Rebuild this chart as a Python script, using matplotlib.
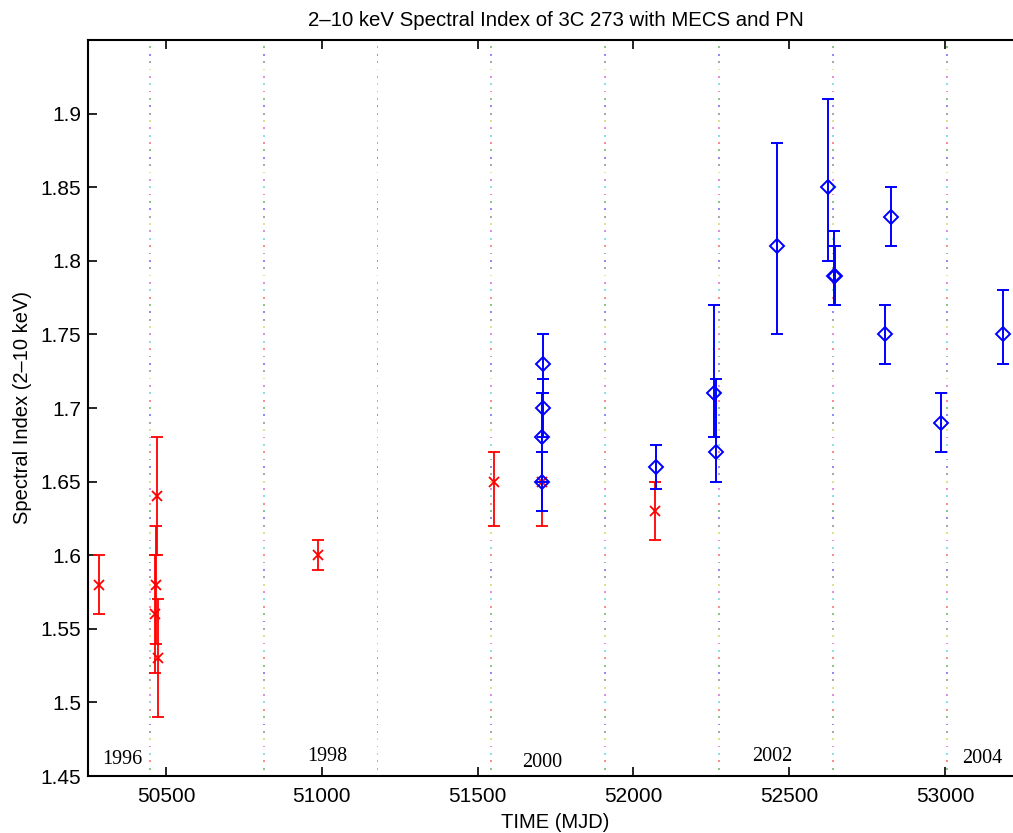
import numpy as np
import matplotlib
matplotlib.use('Agg')
import matplotlib.pyplot as plt

# MECS (BeppoSAX) points
mecs_mjd = [50285, 50470, 50467, 50465, 50474, 50988, 51553, 51707, 52069]
mecs_index = [1.58, 1.64, 1.58, 1.56, 1.53, 1.60, 1.65, 1.65, 1.63]
mecs_err_lo = [0.02, 0.04, 0.04, 0.04, 0.04, 0.01, 0.03, 0.03, 0.02]
mecs_err_hi = [0.02, 0.04, 0.04, 0.04, 0.04, 0.01, 0.02, 0.02, 0.02]

# PN (XMM) points
pn_mjd = [51709, 51711, 51708, 51707, 52073, 52259, 52265, 52461, 52625,
          52644, 52646, 52807, 52827, 52987, 53186]
pn_index = [1.73, 1.70, 1.68, 1.65, 1.66, 1.71, 1.67, 1.81, 1.85,
            1.79, 1.79, 1.75, 1.83, 1.69, 1.75]
pn_err_lo = [0.02, 0.02, 0.03, 0.02, 0.015, 0.03, 0.02, 0.06, 0.05,
             0.02, 0.02, 0.02, 0.02, 0.02, 0.02]
pn_err_hi = [0.02, 0.02, 0.03, 0.02, 0.015, 0.06, 0.05, 0.07, 0.06,
             0.03, 0.02, 0.02, 0.02, 0.02, 0.03]

# year boundaries (MJD of Jan 1) and year labels
year_start_mjd = [50449, 50814, 51179, 51544, 51910, 52275, 52640, 53005]
year_labels = ['1996', '1998', '2000', '2002', '2004']
year_label_mjd = [50359, 51017, 51707, 52445, 53119]
year_label_y = [1.461, 1.463, 1.459, 1.463, 1.462]

dot_colors = ['#0000ff', '#008000', '#ff0000', '#00bfbf', '#bf00bf', '#bfbf00', '#404040']

plt.rcParams['font.family'] = ['Liberation Sans', 'DejaVu Sans']

fig = plt.figure(figsize=(10.13, 8.33), dpi=100)
ax = fig.add_axes([88 / 1013, 57 / 833, 935 / 1013, 736 / 833])

# multicoloured dotted year lines
dot_y = np.arange(1.45, 1.951, 0.005)
for xm in year_start_mjd:
    cols = [dot_colors[i % len(dot_colors)] for i in range(len(dot_y))]
    ax.scatter(np.full(len(dot_y), xm), dot_y, s=1.8, marker='s', c=cols,
               alpha=0.45, linewidths=0, zorder=1)

ax.errorbar(mecs_mjd, mecs_index, yerr=[mecs_err_lo, mecs_err_hi], fmt='x',
            color='red', ms=7, mew=1.3, elinewidth=1.3, capsize=4, capthick=1.3,
            zorder=3)
ax.errorbar(pn_mjd, pn_index, yerr=[pn_err_lo, pn_err_hi], fmt='D',
            color='blue', mfc='none', ms=7.5, mew=1.4, elinewidth=1.4, capsize=4,
            capthick=1.4, zorder=4)

for lbl, xm, ym in zip(year_labels, year_label_mjd, year_label_y):
    ax.text(xm, ym, lbl, family=['Liberation Serif', 'DejaVu Serif'],
            fontsize=14.5, ha='center', va='center')

ax.set_xlim(50250, 53250)
ax.set_ylim(1.45, 1.95)
ax.set_xticks([50500, 51000, 51500, 52000, 52500, 53000])
ax.set_yticks([1.45, 1.5, 1.55, 1.6, 1.65, 1.7, 1.75, 1.8, 1.85, 1.9])
ax.set_yticklabels(['1.45', '1.5', '1.55', '1.6', '1.65', '1.7', '1.75',
                    '1.8', '1.85', '1.9'])
ax.tick_params(direction='in', length=6.5, width=1.2, labelsize=15,
               top=True, right=True)
ax.tick_params(axis='x', pad=8)
ax.tick_params(axis='y', pad=5)
for sp in ax.spines.values():
    sp.set_linewidth(1.5)

ax.set_title('2\u201310 keV Spectral Index of 3C 273 with MECS and PN',
             fontsize=14.7, pad=10)
ax.set_xlabel('TIME (MJD)', fontsize=14.5, labelpad=5)
ax.set_ylabel('Spectral Index (2\u201310 keV)', fontsize=14.5, labelpad=6)

fig.savefig('out.png', dpi=100)
plt.close(fig)
